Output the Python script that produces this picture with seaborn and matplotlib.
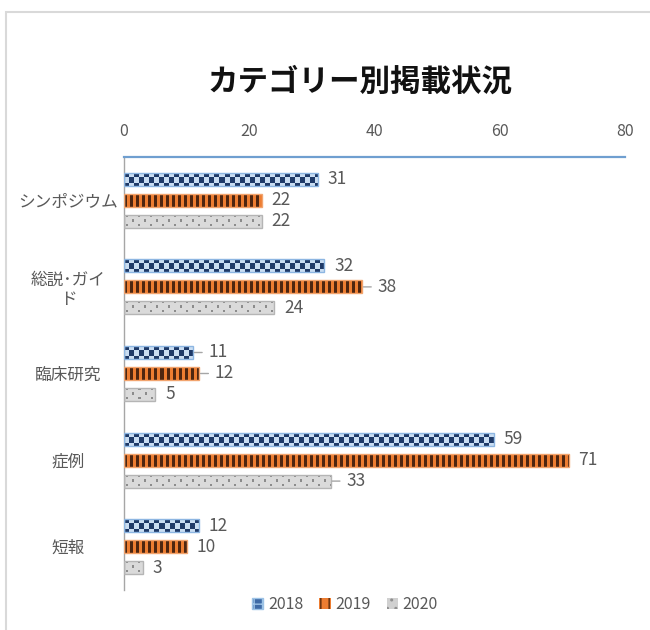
import numpy as np
import pandas as pd
import matplotlib
matplotlib.use("Agg")
import matplotlib.pyplot as plt
from matplotlib.patches import Patch, Rectangle
import seaborn as sns

# ---- data ----
categories = ["シンポジウム", "総説･ガイ\nド", "臨床研究", "症例", "短報"]
years = ["2018", "2019", "2020"]
counts_2018 = [31, 32, 11, 59, 12]
counts_2019 = [22, 38, 12, 71, 10]
counts_2020 = [22, 24, 5, 33, 3]
x_ticks = [0, 20, 40, 60, 80]

df = pd.DataFrame({
    "category": categories * 3,
    "year": [y for y in years for _ in categories],
    "count": counts_2018 + counts_2019 + counts_2020,
})

sns.set_theme(style="white")
plt.rcParams["font.family"] = ["Noto Sans CJK JP", "DejaVu Sans"]

TEXT = "#595959"

fig = plt.figure(figsize=(6.5, 6.3), dpi=100)
ax = fig.add_axes([0.1908, 0.0635, 0.7708, 0.6873])

sns.barplot(data=df, y="category", x="count", hue="year", order=categories,
            hue_order=years, orient="h", width=0.7275, gap=0.38,
            palette=["#BDD7EE", "#ED7D31", "#D9D9D9"], legend=False,
            saturation=1, ax=ax)

ax.set_xlim(0, 80)
ax.set_ylim(4.5, -0.5)
ax.set_xlabel("")
ax.set_ylabel("")

# axis styling: value axis on top, category axis on the left
ax.xaxis.tick_top()
ax.set_xticks(x_ticks)
ax.set_xticklabels([str(t) for t in x_ticks])
ax.tick_params(axis="x", length=0, pad=12, labelsize=11.5, labelcolor=TEXT)
ax.tick_params(axis="y", length=0, pad=40, labelsize=12, labelcolor=TEXT)
for lbl in ax.get_yticklabels():
    lbl.set_horizontalalignment("center")
    lbl.set_multialignment("center")
for side in ["right", "bottom"]:
    ax.spines[side].set_visible(False)
ax.spines["top"].set_color("#6F9FD0")
ax.spines["top"].set_linewidth(1.6)
ax.spines["left"].set_color("#A6A6A6")
ax.spines["left"].set_linewidth(1.0)


# ---- pixel fill patterns for each series ----
def hex_rgb(h):
    h = h.lstrip("#")
    return np.array([int(h[i:i + 2], 16) / 255 for i in (0, 2, 4)])


def checker_tile():
    dark, light = hex_rgb("#1F3A68"), hex_rgb("#C9DDF2")
    t = np.zeros((10, 10, 3))
    for i in range(10):
        for j in range(10):
            t[i, j] = dark if ((i // 5 + j // 5) % 2 == 0) else light
    return t


def stripe_tile():
    dark, base = hex_rgb("#4E2610"), hex_rgb("#ED7D31")
    t = np.zeros((1, 6, 3))
    t[0, :3] = dark
    t[0, 3:] = base
    return t


def dot_tile():
    dot, base = hex_rgb("#8C8C8C"), hex_rgb("#DADADA")
    t = np.tile(base, (8, 12, 1))
    t[1:3, 2:4] = dot
    t[5:7, 8:10] = dot
    return t


tiles = [checker_tile(), stripe_tile(), dot_tile()]
edges = ["#8DB6E2", "#F2A46E", "#B5B5B5"]

fig.canvas.draw()
to_px = ax.transData
for k, cont in enumerate(ax.containers):
    tile = tiles[k]
    for bar in cont:
        x0, y0 = bar.get_x(), bar.get_y()
        w, h = bar.get_width(), bar.get_height()
        (px0, py0), (px1, py1) = to_px.transform([(x0, y0), (x0 + w, y0 + h)])
        wp = max(1, int(round(abs(px1 - px0))))
        hp = max(1, int(round(abs(py1 - py0))))
        reps = (hp // tile.shape[0] + 1, wp // tile.shape[1] + 1, 1)
        img = np.tile(tile, reps)[:hp, :wp]
        im = ax.imshow(img, extent=(x0, x0 + w, y0 + h, y0), aspect="auto",
                       interpolation="nearest", zorder=2)
        im.set_clip_path(bar)
        bar.set_facecolor("none")
        bar.set_edgecolor(edges[k])
        bar.set_linewidth(1.0)
        bar.set_zorder(3)

ax.set_xlim(0, 80)
ax.set_ylim(4.5, -0.5)

# ---- value labels (some with short leader lines) ----
leader = {(1, 1), (0, 2), (1, 2), (2, 3)}
for k, cont in enumerate(ax.containers):
    for i, bar in enumerate(cont):
        val = bar.get_width()
        yc = bar.get_y() + bar.get_height() / 2
        if (k, i) in leader:
            ax.annotate(f"{val:g}", xy=(val, yc), xytext=(11, 0),
                        textcoords="offset points", ha="left", va="center",
                        fontsize=12.5, color=TEXT,
                        arrowprops=dict(arrowstyle="-", color="#A6A6A6",
                                        lw=1.0, shrinkA=2, shrinkB=1))
        else:
            ax.annotate(f"{val:g}", xy=(val, yc), xytext=(7, 0),
                        textcoords="offset points", ha="left", va="center",
                        fontsize=12.5, color=TEXT)

# ---- title ----
fig.text(0.554, 0.87, "カテゴリー別掲載状況", ha="center", va="center",
         fontsize=22, fontweight="bold", color="#111111")

# ---- legend ----
handles = [
    Patch(facecolor="#3E6AA6", edgecolor="#9DC3E6", hatch="++", label="2018"),
    Patch(facecolor="#ED7D31", edgecolor="#5A2A0C", hatch="||", linewidth=0, label="2019"),
    Patch(facecolor="#D0D0D0", edgecolor="#909090", hatch="..", linewidth=0, label="2020"),
]
leg = fig.legend(handles=handles, loc="center", bbox_to_anchor=(0.531, 0.04),
                 ncol=3, frameon=False, fontsize=11.5, handlelength=0.7,
                 handleheight=0.7, handletextpad=0.3, columnspacing=1.0,
                 labelcolor=TEXT)

# ---- outer chart frame ----
fig.patches.append(Rectangle((6 / 650, -0.05), 1.2, 1 - 12 / 630 + 0.05,
                             transform=fig.transFigure, fill=False,
                             edgecolor="#D9D9D9", linewidth=1.5))

fig.savefig("out.png", dpi=100)
